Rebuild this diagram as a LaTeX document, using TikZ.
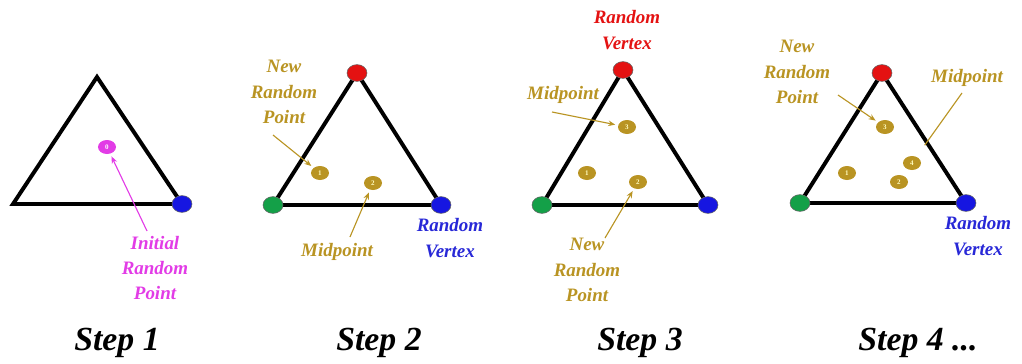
\documentclass[tikz,border=0pt]{standalone}
\usepackage{fontspec}
\setmainfont{Liberation Serif}
\usetikzlibrary{arrows.meta,shapes.geometric}

\definecolor{golden}{RGB}{185,148,35}
\definecolor{magentapt}{RGB}{226,60,230}
\definecolor{vred}{RGB}{228,18,18}
\definecolor{vblue}{RGB}{22,22,225}
\definecolor{vgreen}{RGB}{20,160,72}
\definecolor{lblue}{RGB}{40,40,215}

\begin{document}
\begin{tikzpicture}[x=0.025cm, y=-0.025cm,
    tri/.style={line width=2.8pt, black},
    vtx/.style={ellipse, draw=black!60, line width=0.4pt, minimum width=0.5cm, minimum height=0.42cm, inner sep=0pt},
    pt/.style={ellipse, fill=golden, minimum width=0.45cm, minimum height=0.35cm, inner sep=0pt,
        font=\fontsize{5}{5}\selectfont\bfseries, text=yellow!25},
    lbl/.style={align=center, font=\fontsize{13.5}{18}\selectfont\bfseries\itshape},
    steplbl/.style={font=\fontsize{24}{28}\selectfont\bfseries\itshape},
    arr/.style={-{Stealth[length=5pt,width=4pt]}, line width=0.8pt, shorten >=2pt}]
    \useasboundingbox (0,0) rectangle (1022,363);

    % Step 1
    \coordinate (L1) at (13,204);
    \coordinate (T1) at (97,77);
    \coordinate (R1) at (182,204);
    \draw[tri] (L1) -- (T1) -- (R1) -- cycle;
    \node[vtx, fill=vblue] (blue1) at (R1) {};
    \node[pt, fill=magentapt, text=white] (p0) at (107,147) {0};
    \node[lbl, text=magentapt] (init) at (155,268) {Initial\\Random\\Point};
    \coordinate (t0) at (147,231);
    \draw[arr, magentapt] (t0) -- (p0);

    % Step 2
    \coordinate (G2) at (273,205);
    \coordinate (T2) at (357,73);
    \coordinate (B2) at (441,205);
    \draw[tri] (G2) -- (T2) -- (B2) -- cycle;
    \node[vtx, fill=vgreen] (green2) at (G2) {};
    \node[vtx, fill=vred] (red2) at (T2) {};
    \node[vtx, fill=vblue] (blue2) at (B2) {};
    \node[pt] (p21) at (320,173) {1};
    \node[pt] (p22) at (373,183) {2};
    \node[lbl, text=golden] (new2) at (284,92) {New\\Random\\Point};
    \node[lbl, text=golden] (mid2) at (337,252) {Midpoint};
    \node[lbl, text=lblue] (rv2) at (450,238) {Random\\Vertex};
    \coordinate (t21) at (273,135);
    \coordinate (t22) at (350,237);
    \draw[arr, golden] (t21) -- (p21);
    \draw[arr, golden] (t22) -- (p22);

    % Step 3
    \coordinate (G3) at (542,205);
    \coordinate (T3) at (623,70);
    \coordinate (B3) at (708,205);
    \draw[tri] (G3) -- (T3) -- (B3) -- cycle;
    \node[vtx, fill=vgreen] (green3) at (G3) {};
    \node[vtx, fill=vred] (red3) at (T3) {};
    \node[vtx, fill=vblue] (blue3) at (B3) {};
    \node[pt] (p31) at (587,173) {1};
    \node[pt] (p32) at (638,182) {2};
    \node[pt] (p33) at (627,127) {3};
    \node[lbl, text=vred] (rv3) at (627,30) {Random\\Vertex};
    \node[lbl, text=golden] (mid3) at (563,95) {Midpoint};
    \node[lbl, text=golden] (new3) at (587,270) {New\\Random\\Point};
    \coordinate (t33) at (552,112);
    \coordinate (t32) at (605,238);
    \draw[arr, golden] (t33) -- (p33);
    \draw[arr, golden] (t32) -- (p32);

    % Step 4
    \coordinate (G4) at (800,203);
    \coordinate (T4) at (882,73);
    \coordinate (B4) at (966,203);
    \draw[tri] (G4) -- (T4) -- (B4) -- cycle;
    \node[vtx, fill=vgreen] (green4) at (G4) {};
    \node[vtx, fill=vred] (red4) at (T4) {};
    \node[vtx, fill=vblue] (blue4) at (B4) {};
    \node[pt] (p41) at (847,173) {1};
    \node[pt] (p42) at (899,182) {2};
    \node[pt] (p43) at (885,127) {3};
    \node[pt] (p44) at (912,163) {4};
    \node[lbl, text=golden] (new4) at (797,72) {New\\Random\\Point};
    \node[lbl, text=golden] (mid4) at (967,78) {Midpoint};
    \node[lbl, text=lblue] (rv4) at (978,236) {Random\\Vertex};
    \coordinate (t43) at (838,95);
    \coordinate (t44) at (962,93);
    \draw[arr, golden] (t43) -- (p43);
    \draw[golden, line width=0.8pt, shorten >=0.35cm] (t44) -- (p44);

    % step captions
    \node[steplbl] (s1) at (117,343) {Step 1};
    \node[steplbl] (s2) at (379,343) {Step 2};
    \node[steplbl] (s3) at (640,343) {Step 3};
    \node[steplbl] (s4) at (918,343) {Step 4 ...};
\end{tikzpicture}
\end{document}
